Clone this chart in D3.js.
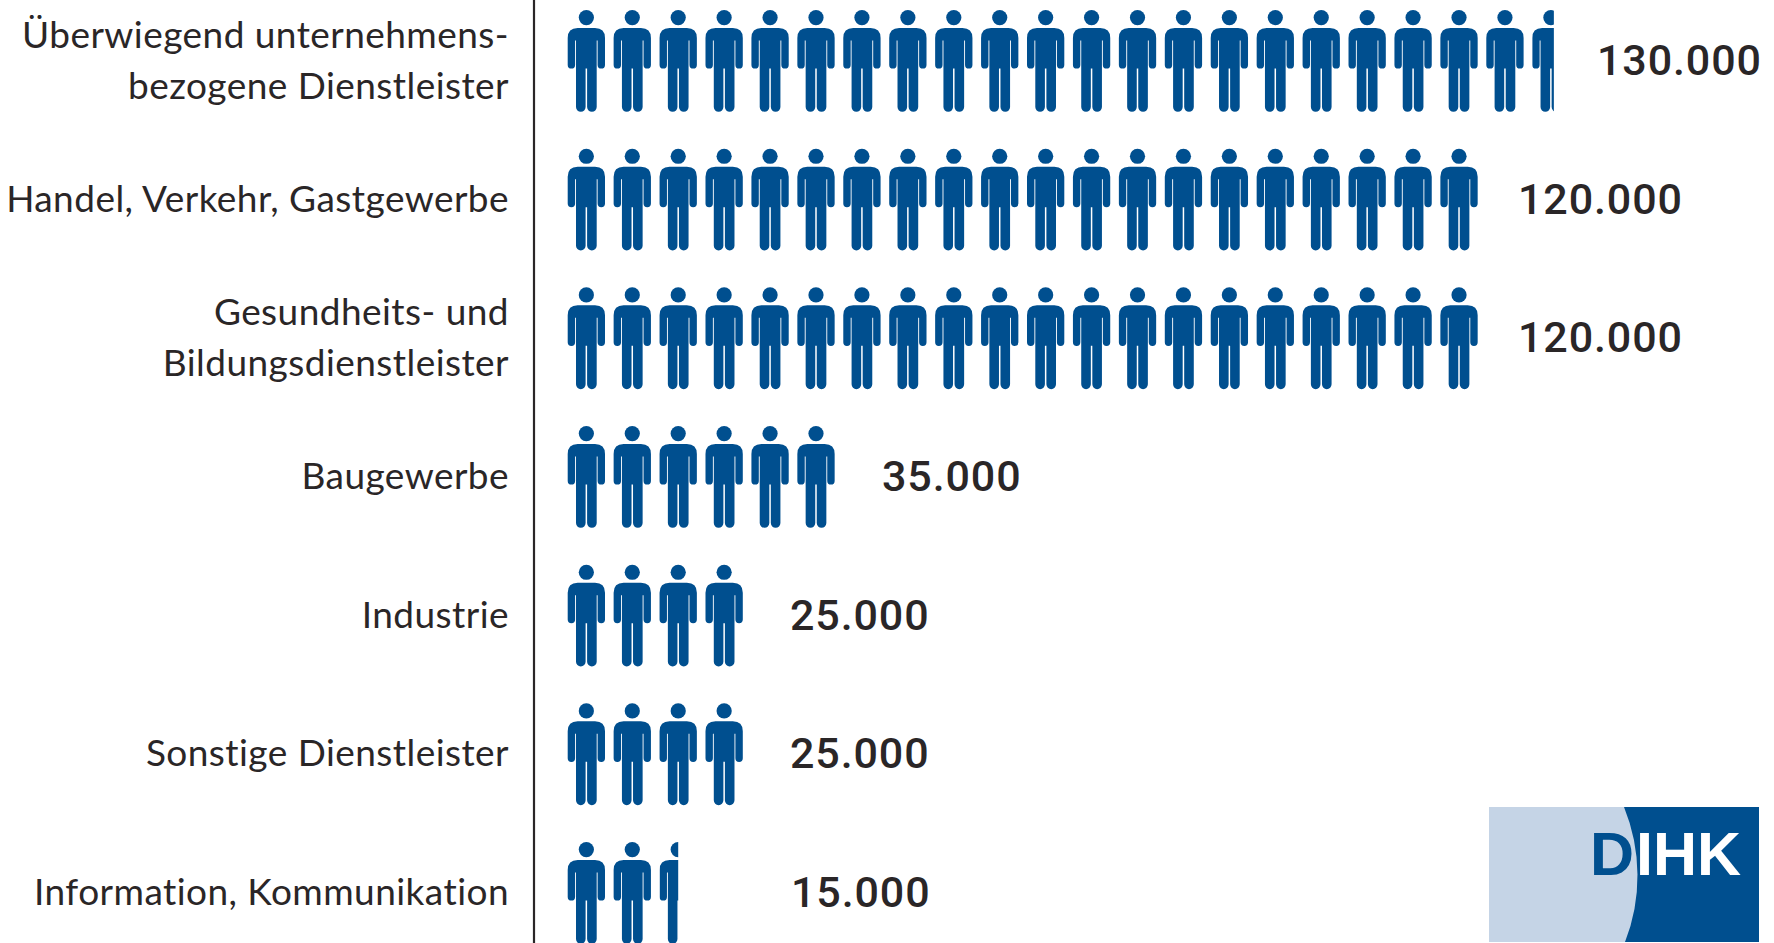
<!DOCTYPE html>
<html>
<head>
<meta charset="utf-8">
<title>DIHK Beschäftigte</title>
<script src="https://d3js.org/d3.v7.min.js" charset="utf-8"></script>
<style>
html, body { margin: 0; padding: 0; background: white; overflow: hidden; }
svg { display: block; }
text { font-family: Lato, "Open Sans", sans-serif; }
</style>
</head>
<body>
<script>
// values
var categories = [
  "Überwiegend unternehmens-|bezogene Dienstleister",
  "Handel, Verkehr, Gastgewerbe",
  "Gesundheits- und|Bildungsdienstleister",
  "Baugewerbe",
  "Industrie",
  "Sonstige Dienstleister",
  "Information, Kommunikation"
];
var values = [130000, 120000, 120000, 35000, 25000, 25000, 15000];
var iconCounts = [21.58, 20, 20, 6, 4, 4, 2.5];
var logoText = ["D", "IHK"];

var width = 1774;
var height = 943;
var blue = "#004f8f";
var ink = "#2a2627";
var iconW = 37.3;
var iconGap = 45.93;
var axisX = 534;
var iconLeft = 567.7;

var svg = d3.select("body").append("svg")
  .attr("width", width)
  .attr("height", height);
var defs = svg.append("defs");

var y = d3.scalePoint().domain(categories).range([61, 893]);
var x = d3.scaleLinear().domain([0, 1]).range([iconLeft, iconLeft + iconGap]);

// person glyph, origin is top left of the icon box
var person = defs.append("g").attr("id", "person");
person.append("circle").attr("cx", 18.65).attr("cy", 7.6).attr("r", 7.6).attr("fill", blue);
person.append("path").attr("fill", blue).attr("d",
  "M10,18 H27.3 Q37.3,18 37.3,28 V54.9 A3.7,3.7 0 0 1 29.9,54.9 V30.5 H29 V97 A4.8,4.8 0 0 1 19.4,97 " +
  "V58.5 H17.9 V97 A4.8,4.8 0 0 1 8.3,97 V30.5 H7.4 V54.9 A3.7,3.7 0 0 1 0,54.9 V28 Q0,18 10,18 Z");

// axis with the category labels
var axis = d3.axisLeft(y).tickSize(0).tickPadding(0);
var axisG = svg.append("g")
  .attr("transform", "translate(" + axisX + ",0)")
  .call(axis);
axisG.select(".domain").remove();
axisG.append("line")
  .attr("y1", 0).attr("y2", height)
  .attr("stroke", ink).attr("stroke-width", 2.2);

axisG.selectAll(".tick text").each(function(d) {
  var t = d3.select(this).text(null)
    .attr("x", -25).attr("y", 0).attr("dy", null)
    .attr("text-anchor", "end")
    .attr("fill", ink)
    .style("font-size", "37px")
    .style("letter-spacing", "0.45px");
  var lines = d.split("|");
  lines.forEach(function(line, i) {
    t.append("tspan")
      .attr("x", -25)
      .attr("y", (i - (lines.length - 1) / 2) * 51 + 11.5)
      .text(line);
  });
});

// rows of icons, the last one is cut at its fraction
var rows = svg.append("g").selectAll("g")
  .data(categories)
  .enter().append("g")
  .attr("transform", function(d) { return "translate(0," + (y(d) - 51) + ")"; });

rows.each(function(d, r) {
  var n = iconCounts[r];
  var g = d3.select(this);
  d3.range(Math.ceil(n)).forEach(function(i) {
    var part = Math.min(1, n - i);
    if (part < 1) {
      defs.append("clipPath").attr("id", "cut" + r)
        .append("rect")
        .attr("x", 0).attr("y", -2)
        .attr("width", part * iconW).attr("height", 110);
    }
    g.append("g")
      .attr("transform", "translate(" + x(i) + ",0)")
      .attr("clip-path", part < 1 ? "url(#cut" + r + ")" : null)
      .append("use").attr("href", "#person");
  });
});

// value labels do not sit at one fixed gap in the original
var labelX = [1597, 1518, 1518, 882, 790, 790, 791];
var fmt = d3.format(",");
svg.append("g").selectAll("text")
  .data(values)
  .enter().append("text")
  .attr("x", function(d, i) { return labelX[i]; })
  .attr("y", function(d, i) { return y(categories[i]) + 14; })
  .attr("fill", ink)
  .style("font-family", "Roboto")
  .style("font-size", "43px")
  .style("font-weight", 500)
  .style("letter-spacing", "0.9px")
  .text(function(d) { return fmt(d).replace(",", "."); });

// logo
var logo = svg.append("g");
logo.append("rect").attr("x", 1489).attr("y", 807).attr("width", 270).attr("height", 135).attr("fill", "#c5d4e6");
logo.append("path").attr("fill", blue)
  .attr("d", "M1624,807 H1759 V942 H1625 A182,182 0 0 0 1624,807 Z");
logo.append("text").attr("x", 1590).attr("y", 875).attr("fill", blue)
  .style("font-family", "Liberation Sans").style("font-weight", 700).style("font-size", "61px")
  .text(logoText[0]);
logo.append("text").attr("x", 1636).attr("y", 875).attr("fill", "white")
  .style("font-family", "Liberation Sans").style("font-weight", 700).style("font-size", "61px")
  .text(logoText[1]);
</script>
</body>
</html>
